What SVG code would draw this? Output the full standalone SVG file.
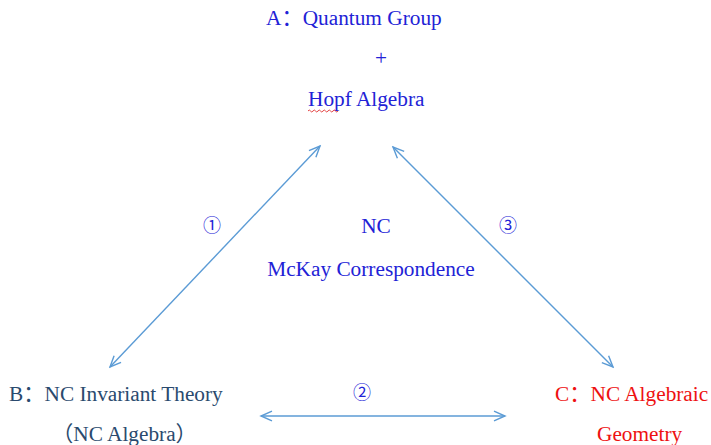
<svg xmlns="http://www.w3.org/2000/svg" width="711" height="445" viewBox="0 0 711 445">
<style>
text{font-family:"Liberation Serif","Noto Sans CJK SC",serif;font-size:21.3px}
.blue{fill:#2222d6}
.slate{fill:#2a4a6e}
.red{fill:#ee1111}
.num{font-family:"Noto Sans CJK SC","DejaVu Sans",sans-serif;font-size:18px;fill:#2222d6}
.conn{stroke:#5b9bd5;stroke-width:1.4;fill:none}
</style>
<defs>
<marker id="ah" viewBox="-12 -6 14 12" markerWidth="14" markerHeight="12" refX="0" refY="0" orient="auto-start-reverse" markerUnits="userSpaceOnUse">
<path d="M-11,-4.8 L0,0 L-11,4.8" fill="none" stroke="#5b9bd5" stroke-width="1.4"/>
</marker>
</defs>
<rect width="711" height="445" fill="#ffffff"/>
<g id="connectors">
<line class="conn" x1="110" y1="367" x2="320" y2="146" marker-start="url(#ah)" marker-end="url(#ah)"/>
<line class="conn" x1="393" y1="147" x2="613" y2="367" marker-start="url(#ah)" marker-end="url(#ah)"/>
<line class="conn" x1="261" y1="416" x2="505" y2="416" marker-start="url(#ah)" marker-end="url(#ah)"/>
<text class="num" x="212" y="232" text-anchor="middle">①</text>
<text class="num" x="362" y="399" text-anchor="middle">②</text>
<text class="num" x="508" y="232" text-anchor="middle">③</text>
</g>
<g id="nodeA">
<text class="blue" x="266" y="25">A：Quantum Group</text>
<text class="blue" x="381" y="65" text-anchor="middle">+</text>
<text class="blue" x="308" y="106">Hopf Algebra</text>
<path d="M308,111 q1.25,-2 2.5,0 t2.5,0 t2.5,0 t2.5,0 t2.5,0 t2.5,0 t2.5,0 t2.5,0 t2.5,0 t2.5,0 t2.5,0 t2.5,0" fill="none" stroke="#e03030" stroke-width="0.9"/>
</g>
<g id="center">
<text class="blue" x="376" y="233" text-anchor="middle">NC</text>
<text class="blue" x="371" y="276" text-anchor="middle">McKay Correspondence</text>
</g>
<g id="nodeB">
<text class="slate" x="9" y="401">B：NC Invariant Theory</text>
<text class="slate" x="52" y="441">（NC Algebra）</text>
</g>
<g id="nodeC">
<text class="red" x="555" y="401">C：NC Algebraic</text>
<text class="red" x="597" y="441">Geometry</text>
</g>
</svg>
